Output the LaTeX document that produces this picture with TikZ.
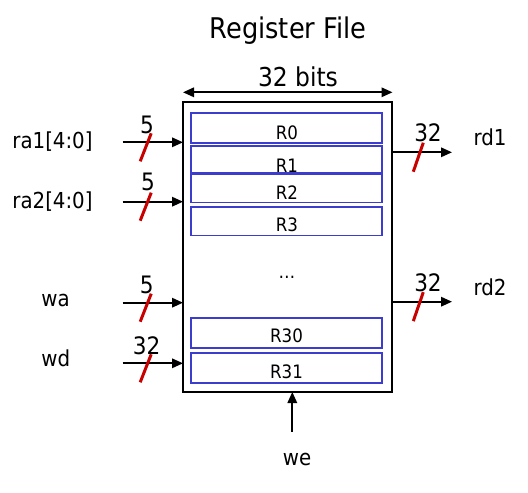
\documentclass[tikz,border=0pt]{standalone}
\usepackage{fontspec}
\setmainfont{DejaVu Sans Condensed}
\usetikzlibrary{arrows.meta,calc}
\definecolor{regblue}{RGB}{60,60,205}
\definecolor{busred}{RGB}{200,0,0}
\tikzset{
  sig/.style={line width=1.7pt,-{Triangle[length=11pt,width=9.5pt]}},
  dbl/.style={line width=1.7pt,{Triangle[length=11pt,width=9.5pt]}-{Triangle[length=11pt,width=9.5pt]}},
  busmark/.style={line width=3pt,busred},
  regbox/.style={draw=regblue,line width=1.7pt,minimum width=191pt,inner sep=0pt,outer sep=0pt},
  reglab/.style={anchor=base,font=\fontsize{18.5}{20}\selectfont,inner sep=0pt},
  siglab/.style={anchor=base,font=\fontsize{22}{24}\selectfont,inner sep=0pt},
  buslab/.style={anchor=base,font=\fontsize{24}{26}\selectfont,inner sep=0pt},
}
\begin{document}
\begin{tikzpicture}[x=1pt,y=-1pt]
\useasboundingbox (0,0) rectangle (528,493);
% title
\node[anchor=base,font=\fontsize{28.5}{30}\selectfont,inner sep=0pt] (title) at (288,38.3) {Register File};
% main box
\node[draw,line width=2.2pt,minimum width=209pt,minimum height=290pt,inner sep=0pt,outer sep=0pt] (rf) at (287.5,247) {};
% width arrow
\coordinate (wl) at (183,92.3);
\coordinate (wr) at (392.5,92.3);
\draw[dbl] (wl) -- (wr);
\node[anchor=base,font=\fontsize{26}{28}\selectfont,inner sep=0pt] (bits) at (298,86.7) {32 bits};
% registers
\node[regbox,minimum height=29.4pt] (r0) at (286.5,128) {};
\node[regbox,minimum height=27pt] (r1) at (286.5,159.5) {};
\node[regbox,minimum height=28.3pt] (r2) at (286.5,188.2) {};
\node[regbox,minimum height=28.8pt] (r3) at (286.5,221.1) {};
\node[regbox,minimum height=30.6pt] (r30) at (286.5,333) {};
\node[regbox,minimum height=30.6pt] (r31) at (286.5,368) {};
\node[reglab] (l0) at (287,139) {R0};
\node[reglab] (l1) at (287,172) {R1};
\node[reglab] (l2) at (287,199) {R2};
\node[reglab] (l3) at (287,231.5) {R3};
\node[reglab] (ldots) at (287,278.3) {…};
\node[reglab] (l30) at (286.5,342.7) {R30};
\node[reglab] (l31) at (286.5,378.3) {R31};
% inputs
\coordinate (ra1in) at (122.7,142.3);
\coordinate (ra2in) at (122.7,201.7);
\coordinate (wain) at (122.7,302.7);
\coordinate (wdin) at (122.7,363.3);
\foreach \c in {ra1in,ra2in,wain,wdin}{
  \draw[sig] (\c) -- (\c -| rf.west);
  \draw[busmark] ([shift={(17.5,19)}]\c) -- ([shift={(28.5,-9)}]\c);
}
\node[siglab] (ra1) at (52.5,148) {ra1[4:0]};
\node[siglab] (ra2) at (52.5,208) {ra2[4:0]};
\node[siglab] (wa) at (55.5,306.7) {wa};
\node[siglab] (wd) at (55.8,366) {wd};
\node[buslab] (b1) at (147,133.3) {5};
\node[buslab] (b2) at (148,190) {5};
\node[buslab] (b3) at (146.7,293.3) {5};
\node[buslab] (b4) at (146.7,354.3) {32};
% outputs
\coordinate (rd1out) at (452,152.3);
\coordinate (rd2out) at (452,301.7);
\foreach \c in {rd1out,rd2out}{
  \draw[sig] (\c -| rf.east) -- (\c);
  \draw[busmark] ([shift={(-38.7,19.4)}]\c) -- ([shift={(-28.7,-9.6)}]\c);
}
\node[siglab] (rd1) at (490,145) {rd1};
\node[siglab] (rd2) at (490,295) {rd2};
\node[buslab] (b5) at (428,141.7) {32};
\node[buslab] (b6) at (428,291.7) {32};
% write enable
\coordinate (wein) at (292.3,431.7);
\draw[sig] (wein) -- (wein |- rf.south);
\node[siglab] (we) at (297,465) {we};
\end{tikzpicture}
\end{document}
